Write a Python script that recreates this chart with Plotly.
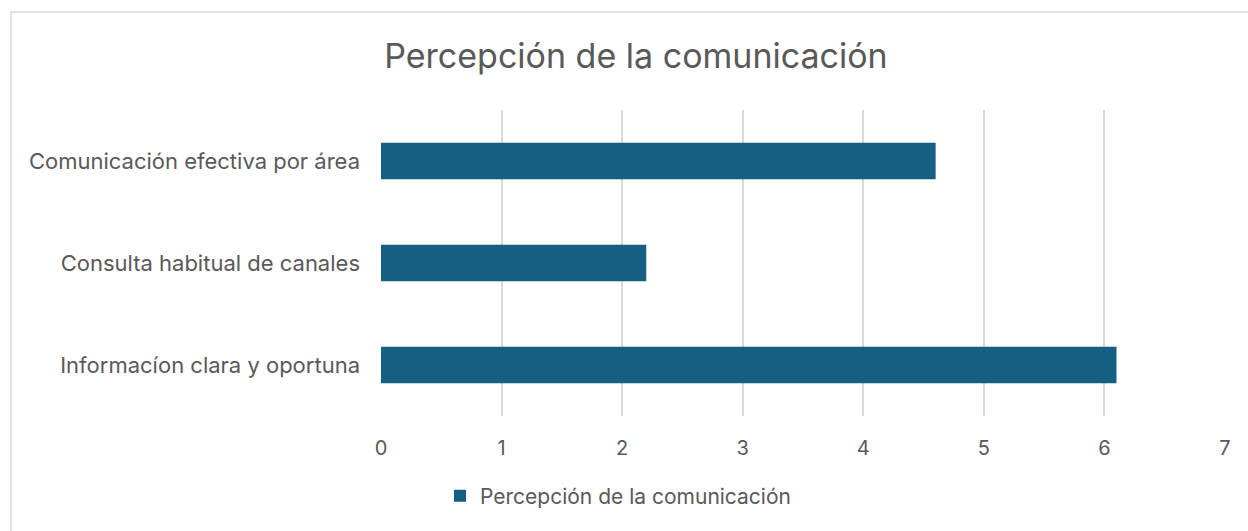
import plotly.graph_objects as go

categories = ["Informacíon clara y oportuna", "Consulta habitual de canales", "Comunicación efectiva por área"]
values = [6.1, 2.2, 4.6]
series_name = "Percepción de la comunicación"
title_text = "Percepción de la comunicación"
x_ticks = [0, 1, 2, 3, 4, 5, 6, 7]

W, H = 1248, 531
L, R, T, B = 381, 23, 110, 115
pw, ph = W - L - R, H - T - B

def px_x(p):
    return (p - L) / pw

def px_y(p):
    return 1 - (p - T) / ph

font_family = "Inter, Open Sans, sans-serif"
gray = "#595959"

fig = go.Figure()
fig.add_trace(go.Bar(
    y=categories, x=values, orientation="h", name=series_name,
    marker=dict(color="#156082", line=dict(width=0)),
    showlegend=True,
))

fig.update_layout(
    width=W, height=H,
    margin=dict(l=L, r=R, t=T, b=B, autoexpand=False),
    paper_bgcolor="white", plot_bgcolor="white",
    bargap=0.64,
    font=dict(family=font_family, color=gray, size=21),
    title=dict(text=title_text, x=636 / W, xanchor="center", xref="container",
               y=1 - 56 / H, yanchor="middle", yref="container",
               font=dict(size=34, color=gray, family=font_family)),
    xaxis=dict(range=[0, 7], tickvals=x_ticks, showgrid=True, gridcolor="#d9d9d9",
               gridwidth=1.5, zeroline=False, showline=False, ticks="",
               tickfont=dict(size=20, color=gray), ticklabelstandoff=18),
    yaxis=dict(showgrid=False, zeroline=False, showline=False, ticks="",
               tickfont=dict(size=22, color=gray), ticklabelstandoff=20),
    legend=dict(orientation="h", x=px_x(618), xanchor="center",
                y=px_y(496), yanchor="middle", font=dict(size=21, color=gray),
                itemwidth=30),
    shapes=[dict(type="rect", xref="paper", yref="paper",
                 x0=px_x(11), x1=px_x(1300), y0=px_y(600), y1=px_y(12),
                 line=dict(color="#d9d9d9", width=1.5), fillcolor="rgba(0,0,0,0)",
                 layer="below")],
)

fig.write_html("out.html", config={"displayModeBar": False},
               post_script="document.body.style.margin='0';document.body.style.overflow='hidden';")
